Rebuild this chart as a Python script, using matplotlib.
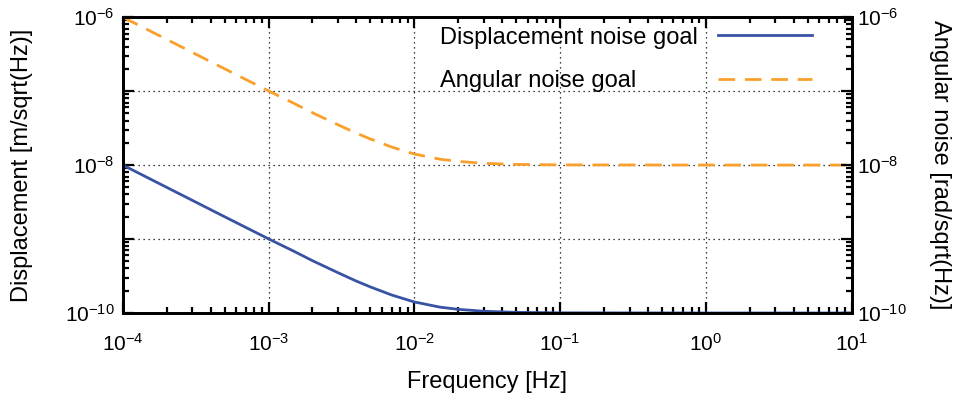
import numpy as np
import matplotlib
matplotlib.use('Agg')
from matplotlib import pyplot as plt
from matplotlib.ticker import LogLocator, FuncFormatter, NullFormatter

plt.rcParams['font.family'] = ['Liberation Sans', 'DejaVu Sans']
plt.rcParams['mathtext.fontset'] = 'custom'
plt.rcParams['mathtext.rm'] = 'Liberation Sans'
plt.rcParams['mathtext.it'] = 'Liberation Sans'
plt.rcParams['font.size'] = 17
plt.rcParams['xtick.labelsize'] = 15
plt.rcParams['ytick.labelsize'] = 15

# values
freq = [1e-4, 2e-4, 5e-4, 1e-3, 1.5e-3, 2e-3, 3e-3, 4e-3, 5e-3, 7e-3, 1e-2,
        1.5e-2, 2e-2, 3e-2, 5e-2, 1e-1, 1e0, 1e1]
disp_goal = [1e-8, 5e-9, 2e-9, 1.005e-9, 6.8e-10, 5.1e-10, 3.5e-10, 2.7e-10,
             2.25e-10, 1.75e-10, 1.41e-10, 1.2e-10, 1.12e-10, 1.055e-10,
             1.02e-10, 1.005e-10, 1e-10, 1e-10]
ang_goal = [1e-6, 5e-7, 2e-7, 1.005e-7, 6.8e-8, 5.1e-8, 3.5e-8, 2.7e-8,
            2.25e-8, 1.75e-8, 1.41e-8, 1.2e-8, 1.12e-8, 1.055e-8,
            1.02e-8, 1.005e-8, 1e-8, 1e-8]
labels = ['Displacement noise goal', 'Angular noise goal']

blue = '#3953a4'
orange = '#f9a02c'

fig = plt.figure(figsize=(9.59, 3.98), dpi=100)
ax = fig.add_axes([0.128, 0.2136, 0.76, 0.7434])

l1, = ax.plot(freq, disp_goal, color=blue, lw=2.0)
l2, = ax.plot(freq, ang_goal, color=orange, lw=2.0, dashes=(6, 3.5))

ax.set_xscale('log')
ax.set_yscale('log')
ax.set_xlim(1e-4, 1e1)
ax.set_ylim(1e-10, 1e-6)

def sci(v, pos):
    e = int(round(np.log10(v)))
    return r'$10^{%d}$' % e

def sci_even(v, pos):
    e = int(round(np.log10(v)))
    if e % 2:
        return ''
    return r'$10^{%d}$' % e

ax.xaxis.set_major_locator(LogLocator(base=10, numticks=20))
ax.xaxis.set_minor_locator(LogLocator(base=10, subs=np.arange(2, 10), numticks=20))
ax.xaxis.set_major_formatter(FuncFormatter(sci))
ax.xaxis.set_minor_formatter(NullFormatter())
ax.yaxis.set_major_locator(LogLocator(base=10, numticks=20))
ax.yaxis.set_minor_locator(LogLocator(base=10, subs=np.arange(2, 10), numticks=20))
ax.yaxis.set_major_formatter(FuncFormatter(sci_even))
ax.yaxis.set_minor_formatter(NullFormatter())

ax.grid(True, which='major', color='black', linestyle=(0, (1, 3)), lw=0.9)
ax.tick_params(which='both', direction='in', top=True, right=False, width=1.6)
ax.tick_params(axis='y', pad=6)
ax.tick_params(axis='x', pad=14)
ax.tick_params(which='major', length=8)
ax.tick_params(which='minor', length=4)
for s in ax.spines.values():
    s.set_linewidth(2.0)

ax.set_xlabel('Frequency [Hz]', labelpad=12)
ax.set_ylabel('Displacement [m/sqrt(Hz)]', labelpad=23)

ax2 = ax.twinx()
ax2.set_yscale('log')
ax2.set_ylim(1e-10, 1e-6)
ax2.yaxis.set_major_locator(LogLocator(base=10, numticks=20))
ax2.yaxis.set_minor_locator(LogLocator(base=10, subs=np.arange(2, 10), numticks=20))
ax2.yaxis.set_major_formatter(FuncFormatter(sci_even))
ax2.yaxis.set_minor_formatter(NullFormatter())
ax2.tick_params(which='both', direction='in', width=1.6, pad=4)
ax2.tick_params(which='major', length=8)
ax2.tick_params(which='minor', length=4)
for s in ax2.spines.values():
    s.set_linewidth(2.0)
ax2.set_ylabel('Angular noise [rad/sqrt(Hz)]', rotation=-90, labelpad=32)

leg = ax2.legend([l1, l2], labels, loc='upper right', bbox_to_anchor=(0.969, 1.024),
                 frameon=False, markerfirst=False, handlelength=4.0,
                 handletextpad=0.85, labelspacing=0.9, borderaxespad=0.3)

# left-align label text while keeping samples flush right (gnuplot-like key)
fig.canvas.draw()
texts = leg.get_texts()
widths = [t.get_window_extent().width for t in texts]
wmax = max(widths)
for col in leg._legend_handle_box.get_children():
    for item in col.get_children():
        ta = item.get_children()[0]
        w = ta._text.get_window_extent().width
        item.sep = item.sep + (wmax - w) * 72.0 / fig.dpi

fig.savefig('out.png', dpi=100)
